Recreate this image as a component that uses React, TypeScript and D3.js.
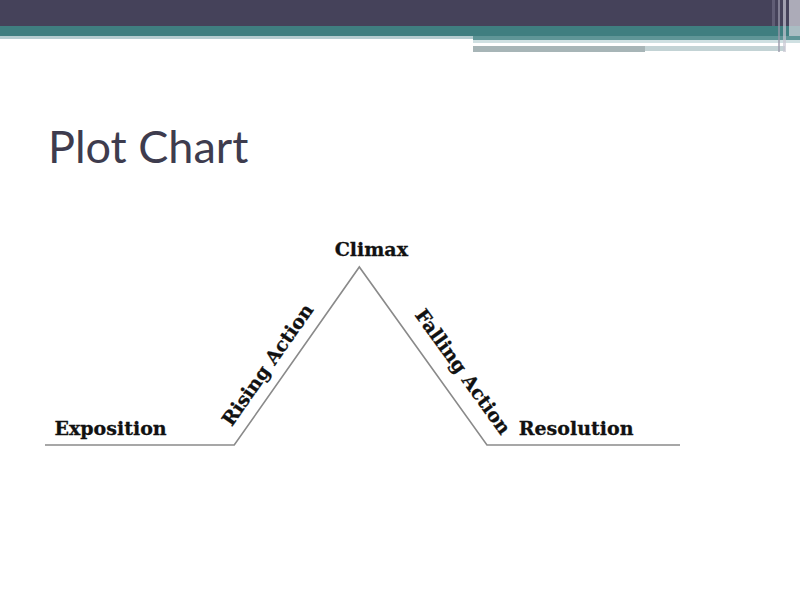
import * as d3 from "d3";

// plot arc: position along the story (0-100) and tension (0-1)
const storyPos = [0, 29.8, 49.5, 69.6, 100];
const tension = [0, 0, 1, 0, 0];

// stage labels
const flatLabels = ["Exposition", "Resolution"];
const flatLabelPos = [1.5, 74.6];
const climaxLabel = "Climax";
const slopeLabels = ["Rising Action", "Falling Action"];
const slopeLabelPos = [35.9, 65.0];
const slopeLabelTension = [0.43, 0.39];

const W = 800;
const H = 599;

export default function App() {
  const x = d3.scaleLinear().domain([0, 100]).range([45, 680]);
  const y = d3.scaleLinear().domain([0, 1]).range([445, 267]);

  const pts = storyPos.map((p, i) => [p, tension[i]] as [number, number]);
  const line = d3
    .line<[number, number]>()
    .x((d) => x(d[0]))
    .y((d) => y(d[1]));

  // slope angles from the arc itself
  const riseAngle =
    (Math.atan2(y(tension[2]) - y(tension[1]), x(storyPos[2]) - x(storyPos[1])) * 180) / Math.PI;
  const fallAngle =
    (Math.atan2(y(tension[3]) - y(tension[2]), x(storyPos[3]) - x(storyPos[2])) * 180) / Math.PI;
  const angles = [riseAngle, fallAngle];

  const labelFont = "'DejaVu Serif', Georgia, serif";
  const labelStyle = {
    fontFamily: labelFont,
    fontWeight: "bold" as const,
    fontSize: 19,
    fill: "#111111",
    stroke: "#111111",
    strokeWidth: 0.3,
  };

  return (
    <svg
      width={W}
      height={H}
      style={{ position: "absolute", left: 0, top: 0, background: "#ffffff" }}
    >
      {/* header bands */}
      <rect x={0} y={0} width={W} height={26} fill="#45425a" />
      <rect x={0} y={26} width={W} height={10} fill="#3f7e80" />
      <rect x={0} y={36} width={W} height={3} fill="#b5ccd0" />
      <rect x={473} y={36} width={W - 473} height={4} fill="#5f9597" />
      <rect x={473} y={40} width={W - 473} height={3} fill="#cfe0e2" />
      <rect x={473} y={43} width={268} height={2} fill="#ffffff" />
      <rect x={473} y={46} width={172} height={6} fill="#a7b5b7" />
      <rect x={645} y={46} width={140} height={5} fill="#c3d3d5" />
      <rect x={772} y={0} width={3} height={26} fill="#6c6a80" opacity={0.7} />
      <rect x={778} y={0} width={2} height={52} fill="#9a98aa" opacity={0.7} />
      <rect x={783} y={0} width={3} height={52} fill="#c9c8d3" opacity={0.7} />
      <rect x={789} y={0} width={11} height={36} fill="#d9d8e0" opacity={0.7} />

      <text
        x={48}
        y={163}
        fontFamily="Lato, 'Open Sans', sans-serif"
        fontSize={45}
        fill="#3e3c4e"
      >
        Plot Chart
      </text>

      <path
        d={line(pts) ?? ""}
        fill="none"
        stroke="#8a8a8a"
        strokeWidth={1.6}
      />

      {flatLabels.map((t, i) => (
        <text key={t} x={x(flatLabelPos[i])} y={y(0) - 10} style={labelStyle}>
          {t}
        </text>
      ))}

      <text
        x={x(storyPos[2]) + 12}
        y={y(1) - 11}
        textAnchor="middle"
        style={labelStyle}
      >
        {climaxLabel}
      </text>

      {slopeLabels.map((t, i) => {
        const cx = x(slopeLabelPos[i]);
        const cy = y(slopeLabelTension[i]);
        return (
          <text
            key={t}
            transform={`translate(${cx},${cy}) rotate(${angles[i]})`}
            textAnchor="middle"
            style={labelStyle}
          >
            {t}
          </text>
        );
      })}
    </svg>
  );
}
